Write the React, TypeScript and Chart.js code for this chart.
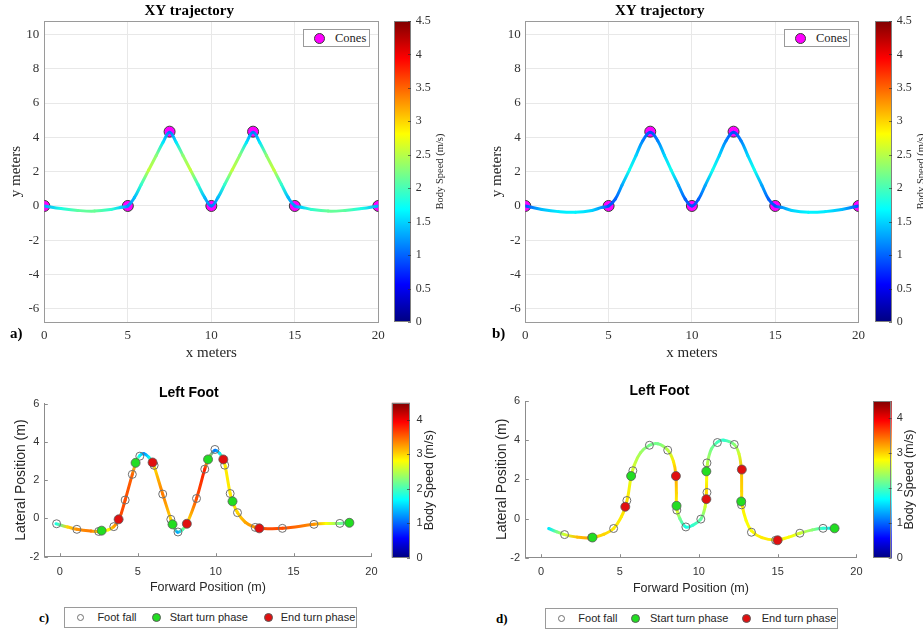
import React, { useEffect, useRef } from "react";
import { Chart, registerables } from "chart.js";

Chart.register(...registerables);

const SERIF = "'Liberation Serif', 'Times New Roman', serif";
const SANS = "'Liberation Sans', Arial, Helvetica, sans-serif";

// ---------------- DATA ----------------
const speedMax = 4.5;

const coneX = [0, 5, 7.5, 10, 12.5, 15, 20];
const coneY = [0, 0, 4.33, 0, 4.33, 0, 0];

// panel a trajectory
const trajAX = [0, 1, 2, 3, 4, 4.6, 5, 5.4, 5.8, 6.25, 6.7, 7.1, 7.5, 7.9, 8.3, 8.75, 9.2, 9.6, 10, 10.4, 10.8, 11.25, 11.7, 12.1, 12.5, 12.9, 13.3, 13.75, 14.2, 14.6, 15, 15.4, 16, 17, 18, 19, 20];
const trajAY = [0, -0.15, -0.26, -0.3, -0.2, -0.07, 0, 0.5, 1.25, 2.1, 2.94, 3.7, 4.3, 3.7, 2.94, 2.1, 1.25, 0.5, 0, 0.5, 1.25, 2.1, 2.94, 3.7, 4.3, 3.7, 2.94, 2.1, 1.25, 0.5, 0, -0.07, -0.2, -0.3, -0.26, -0.15, 0];
const trajASpeed = [1.3, 1.8, 2.1, 2.15, 1.9, 1.5, 1.2, 1.4, 1.9, 2.55, 2.3, 1.6, 1.1, 1.6, 2.3, 2.55, 1.9, 1.4, 1.1, 1.4, 1.9, 2.55, 2.3, 1.6, 1.1, 1.6, 2.3, 2.55, 1.9, 1.4, 1.2, 1.5, 1.9, 2.15, 2.1, 1.8, 1.3];

// panel b trajectory
const trajBX = [0, 1, 2, 3, 4, 4.6, 5, 5.4, 5.8, 6.25, 6.65, 7.05, 7.5, 7.95, 8.35, 8.75, 9.2, 9.6, 10, 10.4, 10.8, 11.25, 11.65, 12.05, 12.5, 12.95, 13.35, 13.75, 14.2, 14.6, 15, 15.4, 16, 17, 18, 19, 20];
const trajBY = [0, -0.2, -0.33, -0.37, -0.26, -0.08, 0, 0.4, 1.2, 2.1, 2.95, 3.8, 4.3, 3.8, 2.95, 2.1, 1.2, 0.4, 0, 0.4, 1.2, 2.1, 2.95, 3.8, 4.3, 3.8, 2.95, 2.1, 1.2, 0.4, 0, -0.08, -0.26, -0.37, -0.33, -0.2, 0];
const trajBSpeed = [0.9, 1.4, 1.6, 1.65, 1.5, 1.2, 0.9, 1.0, 1.3, 1.75, 1.5, 1.15, 0.9, 1.15, 1.5, 1.75, 1.3, 1.0, 0.9, 1.0, 1.3, 1.75, 1.5, 1.15, 0.9, 1.15, 1.5, 1.75, 1.3, 1.0, 0.9, 1.2, 1.5, 1.65, 1.6, 1.4, 0.9];

const xyXTicks = [0, 5, 10, 15, 20];
const xyYTicks = [-6, -4, -2, 0, 2, 4, 6, 8, 10];
const xyCbTicks = [0, 0.5, 1, 1.5, 2, 2.5, 3, 3.5, 4, 4.5];

// panel c (left foot, trial 1)
const pathCX = [-0.25, 0.5, 1.09, 2.0, 2.6, 3.1, 3.46, 3.8, 4.19, 4.65, 4.9, 5.13, 5.4, 5.7, 5.95, 6.1, 6.6, 7.12, 7.3, 7.55, 7.85, 8.15, 8.77, 9.3, 9.55, 9.95, 10.25, 10.49, 10.62, 10.93, 11.1, 11.4, 11.9, 12.54, 12.8, 14.28, 16.31, 17.1, 17.97, 18.58];
const pathCY = [-0.28, -0.45, -0.57, -0.66, -0.68, -0.6, -0.43, -0.05, 0.96, 2.3, 2.95, 3.28, 3.38, 3.2, 2.92, 2.6, 1.27, -0.05, -0.45, -0.72, -0.6, -0.28, 1.04, 2.57, 3.12, 3.55, 3.4, 3.08, 2.7, 1.3, 0.85, 0.3, -0.2, -0.47, -0.52, -0.52, -0.31, -0.27, -0.26, -0.23];
const pathCSpeed = [1.8, 3.0, 3.3, 3.4, 2.8, 2.8, 3.2, 3.6, 3.6, 3.5, 2.6, 1.7, 1.2, 1.6, 2.8, 3.0, 3.4, 3.0, 2.4, 1.3, 2.0, 2.9, 3.6, 3.8, 2.8, 1.1, 1.6, 2.8, 2.9, 2.9, 2.9, 3.0, 3.2, 3.3, 3.6, 3.6, 3.3, 2.8, 2.2, 2.0];
const fallCX = [-0.21, 1.09, 2.49, 3.46, 4.19, 4.65, 5.13, 6.05, 6.6, 7.12, 7.58, 8.77, 9.3, 9.95, 10.58, 10.93, 11.4, 12.54, 14.28, 16.31, 17.97];
const fallCY = [-0.28, -0.57, -0.68, -0.43, 0.96, 2.3, 3.25, 2.77, 1.27, -0.05, -0.71, 1.04, 2.57, 3.6, 2.78, 1.3, 0.3, -0.47, -0.52, -0.31, -0.26];
const startCX = [2.68, 4.86, 7.23, 9.51, 11.08, 18.58];
const startCY = [-0.64, 2.9, -0.31, 3.08, 0.89, -0.23];
const endCX = [3.77, 5.95, 8.15, 10.49, 12.8];
const endCY = [-0.05, 2.92, -0.28, 3.08, -0.52];

// panel d (left foot, trial 2)
const pathDX = [0.48, 1.0, 1.49, 2.3, 3.0, 3.5, 4.0, 4.6, 5.1, 5.34, 5.5, 5.7, 5.9, 6.3, 6.87, 7.4, 8.03, 8.4, 8.55, 8.58, 8.6, 8.8, 9.18, 9.6, 10.13, 10.4, 10.48, 10.5, 10.55, 10.8, 11.18, 11.6, 12.25, 12.55, 12.7, 12.72, 12.75, 13.0, 13.34, 14.0, 14.9, 15.7, 16.41, 17.2, 17.88, 18.61];
const pathDY = [-0.51, -0.68, -0.82, -0.95, -1.0, -0.93, -0.8, -0.51, 0.1, 0.6, 1.1, 2.1, 2.7, 3.35, 3.74, 3.82, 3.5, 2.9, 2.17, 1.3, 0.5, 0.0, -0.43, -0.35, -0.03, 0.6, 1.3, 2.0, 2.8, 3.55, 3.9, 4.0, 3.78, 3.3, 2.5, 1.4, 0.7, -0.1, -0.62, -0.98, -1.1, -0.95, -0.75, -0.58, -0.5, -0.5];
const pathDSpeed = [1.6, 2.2, 2.6, 3.1, 3.2, 3.0, 3.0, 2.9, 2.9, 3.0, 2.9, 2.7, 2.6, 2.4, 2.2, 2.2, 2.5, 2.9, 3.2, 3.0, 2.8, 2.2, 1.8, 1.9, 2.1, 2.6, 3.0, 2.8, 2.5, 2.2, 2.0, 1.9, 2.3, 2.6, 3.1, 3.0, 2.9, 2.8, 2.8, 2.9, 2.9, 2.8, 2.6, 2.3, 1.9, 1.6];
const fallDX = [1.49, 3.21, 4.6, 5.44, 5.82, 6.87, 8.03, 8.61, 9.18, 10.13, 10.52, 10.52, 11.18, 12.25, 12.71, 13.34, 14.87, 16.41, 17.88];
const fallDY = [-0.82, -0.97, -0.51, 0.92, 2.44, 3.74, 3.49, 0.43, -0.43, -0.03, 1.33, 2.84, 3.88, 3.78, 0.7, -0.7, -1.11, -0.75, -0.5];
const startDX = [3.26, 5.71, 8.59, 10.48, 12.69, 18.61];
const startDY = [-0.97, 2.17, 0.65, 2.41, 0.87, -0.5];
const endDX = [5.34, 8.55, 10.48, 12.73, 15.0];
const endDY = [0.6, 2.17, 0.99, 2.5, -1.11];

const footXTicks = [0, 5, 10, 15, 20];
const footYTicks = [-2, 0, 2, 4, 6];
const footCbTicks = [0, 1, 2, 3, 4];

// ---------------- HELPERS ----------------
function jet(v: number): string {
  const t = Math.max(0, Math.min(1, v / speedMax));
  const c = (x: number) => Math.round(255 * Math.max(0, Math.min(1, x)));
  return `rgb(${c(1.5 - Math.abs(4 * t - 3))},${c(1.5 - Math.abs(4 * t - 2))},${c(1.5 - Math.abs(4 * t - 1))})`;
}

const pts = (xs: number[], ys: number[]) => xs.map((x, i) => ({ x, y: ys[i] }));
const fixedTicks = (vals: number[]) => (s: any) => {
  s.ticks = vals.map((v) => ({ value: v }));
};
const plainLabel = (v: any) => String(v);

function segColor(canvas: HTMLCanvasElement, speed: number[]) {
  return (sc: any) => {
    const ctx = canvas.getContext("2d")!;
    const i0 = sc.p0DataIndex;
    const i1 = sc.p1DataIndex;
    const g: any = ctx.createLinearGradient(sc.p0.x, sc.p0.y, sc.p1.x + 0.01, sc.p1.y + 0.01);
    g.addColorStop(0, jet(speed[i0]));
    g.addColorStop(1, jet(speed[i1]));
    g.segId = i0;
    return g;
  };
}

const boxPlugin = {
  id: "box",
  beforeDatasetsDraw(chart: any) {
    const { ctx, chartArea: a } = chart;
    ctx.save();
    ctx.strokeStyle = "#9a9a9a";
    ctx.lineWidth = 1;
    ctx.strokeRect(Math.round(a.left) + 0.5, Math.round(a.top) + 0.5, Math.round(a.right - a.left), Math.round(a.bottom - a.top));
    ctx.restore();
  },
};

// small inward tick marks on the left and bottom axis lines (MATLAB style)
const innerTicksPlugin = {
  id: "innerTicks",
  beforeDatasetsDraw(chart: any) {
    const { ctx, chartArea: a, scales } = chart;
    ctx.save();
    ctx.strokeStyle = "#8c8c8c";
    ctx.lineWidth = 1;
    ctx.beginPath();
    for (const t of scales.x.ticks) {
      const px = Math.round(scales.x.getPixelForValue(t.value)) + 0.5;
      ctx.moveTo(px, a.bottom);
      ctx.lineTo(px, a.bottom - 3.5);
    }
    for (const t of scales.y.ticks) {
      const py = Math.round(scales.y.getPixelForValue(t.value)) + 0.5;
      ctx.moveTo(a.left, py);
      ctx.lineTo(a.left + 3.5, py);
    }
    ctx.stroke();
    ctx.restore();
  },
};

type XYLayout = { padRight: number; yWidth: number; yTitlePad: number; yTickPad: number };

function xyConfig(canvas: HTMLCanvasElement, tx: number[], ty: number[], ts: number[], L: XYLayout): any {
  const tickFont = { family: SERIF, size: 13 };
  const titleFont = { family: SERIF, size: 15 };
  return {
    type: "scatter",
    data: {
      datasets: [
        {
          label: "trajectory",
          data: pts(tx, ty),
          showLine: true,
          pointRadius: 0,
          pointHoverRadius: 0,
          borderWidth: 3,
          borderColor: "#00aaff",
          tension: 0.4,
          borderCapStyle: "round",
          borderJoinStyle: "round",
          segment: { borderColor: segColor(canvas, ts) },
        },
        {
          label: "Cones",
          data: pts(coneX, coneY),
          showLine: false,
          pointRadius: 5.5,
          pointBackgroundColor: "#ff00ff",
          pointBorderColor: "#3a3a3a",
          pointBorderWidth: 1,
        },
      ],
    },
    options: {
      responsive: false,
      animation: false,
      events: [],
      layout: { padding: { left: 0, right: L.padRight, top: 0, bottom: 0 } },
      plugins: {
        legend: { display: false },
        tooltip: { enabled: false },
        title: {
          display: true,
          text: "XY trajectory",
          color: "#000",
          font: { family: SERIF, size: 15, weight: "bold" },
          padding: { top: 2, bottom: 1 },
        },
      },
      scales: {
        x: {
          type: "linear",
          min: 0,
          max: 20,
          afterBuildTicks: fixedTicks(xyXTicks),
          afterFit: (s: any) => {
            s.height = 47.7;
          },
          grid: { color: "#e8e8e8", drawTicks: false },
          border: { display: false },
          ticks: { padding: 5, color: "#333", font: tickFont, callback: plainLabel },
          title: { display: true, text: "x meters", color: "#262626", font: titleFont, padding: { top: 0, bottom: 8.3 } },
        },
        y: {
          type: "linear",
          min: -6.78,
          max: 10.78,
          afterBuildTicks: fixedTicks(xyYTicks),
          afterFit: (s: any) => {
            s.width = L.yWidth;
          },
          grid: { color: "#e8e8e8", drawTicks: false },
          border: { display: false },
          ticks: { padding: L.yTickPad, color: "#333", font: tickFont, callback: plainLabel },
          title: { display: true, text: "y meters", color: "#262626", font: titleFont, padding: { top: L.yTitlePad, bottom: 0 } },
        },
      },
    },
    plugins: [boxPlugin],
  };
}

type FootData = {
  px: number[]; py: number[]; ps: number[];
  fx: number[]; fy: number[];
  sx: number[]; sy: number[];
  ex: number[]; ey: number[];
};
type FootLayout = {
  padRight: number; yWidth: number; xHeight: number;
  titleTop: number; titleBottom: number;
  xTickPad: number; xTitleBottom: number; yTitleTop: number; yTickPad: number;
};

function footConfig(canvas: HTMLCanvasElement, D: FootData, L: FootLayout): any {
  const tickFont = { family: SANS, size: 11 };
  return {
    type: "scatter",
    data: {
      datasets: [
        {
          label: "End turn phase",
          data: pts(D.ex, D.ey),
          pointRadius: 4.5,
          pointBackgroundColor: "#e01010",
          pointBorderColor: "#5a5a5a",
          pointBorderWidth: 0.8,
        },
        {
          label: "Start turn phase",
          data: pts(D.sx, D.sy),
          pointRadius: 4.5,
          pointBackgroundColor: "#22dd22",
          pointBorderColor: "#5a5a5a",
          pointBorderWidth: 0.8,
        },
        {
          label: "Foot fall",
          data: pts(D.fx, D.fy),
          pointRadius: 4,
          pointBackgroundColor: "rgba(255,255,255,0)",
          pointBorderColor: "#6f6f6f",
          pointBorderWidth: 1,
        },
        {
          label: "path",
          data: pts(D.px, D.py),
          showLine: true,
          pointRadius: 0,
          pointHoverRadius: 0,
          borderWidth: 3,
          borderColor: "#ff8800",
          tension: 0.4,
          borderCapStyle: "round",
          borderJoinStyle: "round",
          segment: { borderColor: segColor(canvas, D.ps) },
        },
      ],
    },
    options: {
      responsive: false,
      animation: false,
      events: [],
      layout: { padding: { left: 0, right: L.padRight, top: 0, bottom: 0 } },
      plugins: {
        legend: { display: false },
        tooltip: { enabled: false },
        title: {
          display: true,
          text: "Left Foot",
          color: "#000",
          font: { family: SANS, size: 14, weight: "bold" },
          padding: { top: L.titleTop, bottom: L.titleBottom },
        },
      },
      scales: {
        x: {
          type: "linear",
          min: -1,
          max: 20,
          afterBuildTicks: fixedTicks(footXTicks),
          afterFit: (s: any) => {
            s.height = L.xHeight;
          },
          grid: { display: false, drawTicks: false },
          border: { display: true, color: "#8c8c8c", width: 1 },
          ticks: { padding: L.xTickPad, color: "#333", font: tickFont, callback: plainLabel },
          title: {
            display: true,
            text: "Forward Position (m)",
            color: "#262626",
            font: { family: SANS, size: 12.5 },
            padding: { top: 0, bottom: L.xTitleBottom },
          },
        },
        y: {
          type: "linear",
          min: -2,
          max: 6,
          afterBuildTicks: fixedTicks(footYTicks),
          afterFit: (s: any) => {
            s.width = L.yWidth;
          },
          grid: { display: false, drawTicks: false },
          border: { display: true, color: "#8c8c8c", width: 1 },
          ticks: { padding: L.yTickPad, color: "#333", font: tickFont, callback: plainLabel },
          title: {
            display: true,
            text: "Lateral Position (m)",
            color: "#262626",
            font: { family: SANS, size: 14 },
            padding: { top: L.yTitleTop, bottom: 0 },
          },
        },
      },
    },
    plugins: [innerTicksPlugin],
  };
}

type CbLayout = {
  padLeft: number; padTop: number; padBottom: number; axisWidth: number;
  ticks: number[]; tickPad: number; tickFont: any;
  label: string; labelX: number; labelFont: string;
};

function colorbarConfig(L: CbLayout): any {
  const decor = {
    id: "cbDecor",
    afterDraw(chart: any) {
      const { ctx, chartArea: a } = chart;
      const ys = chart.scales.y;
      ctx.save();
      ctx.strokeStyle = "#808080";
      ctx.lineWidth = 1;
      ctx.strokeRect(Math.round(a.left) + 0.5, Math.round(a.top) + 0.5, Math.round(a.right - a.left) - 1, Math.round(a.bottom - a.top) - 1);
      ctx.strokeStyle = "rgba(40,40,40,0.75)";
      ctx.lineWidth = 0.8;
      for (const v of L.ticks) {
        const py = Math.round(ys.getPixelForValue(v)) + 0.5;
        ctx.beginPath();
        ctx.moveTo(a.right - 3, py);
        ctx.lineTo(a.right, py);
        ctx.stroke();
      }
      ctx.translate(L.labelX, (a.top + a.bottom) / 2);
      ctx.rotate(-Math.PI / 2);
      ctx.font = L.labelFont;
      ctx.fillStyle = "#262626";
      ctx.textAlign = "center";
      ctx.textBaseline = "middle";
      ctx.fillText(L.label, 0, 0);
      ctx.restore();
    },
  };
  return {
    type: "bar",
    data: {
      labels: [""],
      datasets: [
        {
          data: [speedMax],
          borderWidth: 0,
          barPercentage: 1,
          categoryPercentage: 1,
          backgroundColor: (c: any) => {
            const a = c.chart.chartArea;
            if (!a) return "#00f";
            const g = c.chart.ctx.createLinearGradient(0, a.bottom, 0, a.top);
            const n = 48;
            for (let i = 0; i <= n; i++) g.addColorStop(i / n, jet((i / n) * speedMax));
            return g;
          },
        },
      ],
    },
    options: {
      responsive: false,
      animation: false,
      events: [],
      layout: { padding: { left: L.padLeft, top: L.padTop, bottom: L.padBottom, right: 0 } },
      plugins: { legend: { display: false }, tooltip: { enabled: false } },
      scales: {
        x: { display: false },
        y: {
          position: "right",
          min: 0,
          max: speedMax,
          afterBuildTicks: fixedTicks(L.ticks),
          afterFit: (s: any) => {
            s.width = L.axisWidth;
          },
          grid: { display: false, drawTicks: false },
          border: { display: false },
          ticks: { padding: L.tickPad, color: "#333", font: L.tickFont, callback: plainLabel },
        },
      },
    },
    plugins: [decor],
  };
}

// ---------------- COMPONENTS ----------------
function ChartCanvas(props: { left: number; top: number; width: number; height: number; make: (c: HTMLCanvasElement) => any }) {
  const ref = useRef<HTMLCanvasElement>(null);
  useEffect(() => {
    const canvas = ref.current!;
    const chart = new Chart(canvas, props.make(canvas));
    return () => chart.destroy();
  }, []);
  const { left, top, width, height } = props;
  return (
    <canvas
      ref={ref}
      width={width}
      height={height}
      style={{ position: "absolute", left, top, width, height, display: "block" }}
    />
  );
}

type LegendItem = { label: string; mx: number; tx: number; d: number; fill: string; edge: string };

function LegendBox(props: { left: number; top: number; width: number; height: number; family: string; size: number; items: LegendItem[] }) {
  const { left, top, width, height, family, size, items } = props;
  const inner = height - 2;
  return (
    <div
      style={{
        position: "absolute",
        left,
        top,
        width,
        height,
        boxSizing: "border-box",
        border: "1px solid #9a9a9a",
        background: "#fff",
      }}
    >
      {items.map((it) => (
        <React.Fragment key={it.label}>
          <div
            style={{
              position: "absolute",
              left: it.mx - 1 - it.d / 2,
              top: inner / 2 - it.d / 2,
              width: it.d,
              height: it.d,
              borderRadius: "50%",
              background: it.fill,
              border: `1px solid ${it.edge}`,
              boxSizing: "border-box",
            }}
          />
          <span
            style={{
              position: "absolute",
              left: it.tx - 1,
              top: 0,
              height: inner,
              fontFamily: family,
              fontSize: size,
              lineHeight: `${inner}px`,
              color: "#262626",
              whiteSpace: "nowrap",
            }}
          >
            {it.label}
          </span>
        </React.Fragment>
      ))}
    </div>
  );
}

function PanelLetter(props: { text: string; left: number; cy: number; size: number }) {
  return (
    <div
      style={{
        position: "absolute",
        left: props.left,
        top: props.cy - 10,
        height: 20,
        lineHeight: "20px",
        fontFamily: SERIF,
        fontWeight: "bold",
        fontSize: props.size,
        color: "#000",
      }}
    >
      {props.text}
    </div>
  );
}

const footLegendItems = (o: number[]): LegendItem[] => [
  { label: "Foot fall", mx: o[0], tx: o[1], d: 7, fill: "transparent", edge: "#6f6f6f" },
  { label: "Start turn phase", mx: o[2], tx: o[3], d: 9, fill: "#22dd22", edge: "#5a5a5a" },
  { label: "End turn phase", mx: o[4], tx: o[5], d: 9, fill: "#e01010", edge: "#5a5a5a" },
];

export default function App() {
  const dataC: FootData = { px: pathCX, py: pathCY, ps: pathCSpeed, fx: fallCX, fy: fallCY, sx: startCX, sy: startCY, ex: endCX, ey: endCY };
  const dataD: FootData = { px: pathDX, py: pathDY, ps: pathDSpeed, fx: fallDX, fy: fallDY, sx: startDX, sy: startDY, ex: endDX, ey: endDY };
  const xyCbTickFont = { family: SERIF, size: 12 };
  const footCbTickFont = { family: SANS, size: 11 };
  return (
    <div style={{ position: "absolute", left: 0, top: 0, width: 923, height: 632, background: "#fff", overflow: "hidden" }}>
      {/* panel a */}
      <ChartCanvas
        left={0}
        top={0}
        width={390}
        height={370}
        make={(c) => xyConfig(c, trajAX, trajAY, trajASpeed, { padRight: 11.67, yWidth: 44.33, yTitlePad: 7, yTickPad: 5 })}
      />
      <ChartCanvas
        left={390}
        top={0}
        width={70}
        height={370}
        make={() =>
          colorbarConfig({
            padLeft: 4, padTop: 21, padBottom: 48, axisWidth: 49,
            ticks: xyCbTicks, tickPad: 4.7, tickFont: xyCbTickFont,
            label: "Body Speed (m/s)", labelX: 50, labelFont: `10.5px ${SERIF}`,
          })
        }
      />
      <LegendBox
        left={303}
        top={29}
        width={67}
        height={18}
        family={SERIF}
        size={12.5}
        items={[{ label: "Cones", mx: 16, tx: 32, d: 11, fill: "#ff00ff", edge: "#3a3a3a" }]}
      />
      <PanelLetter text="a)" left={10} cy={333} size={15} />

      {/* panel b */}
      <ChartCanvas
        left={460}
        top={0}
        width={410}
        height={370}
        make={(c) => xyConfig(c, trajBX, trajBY, trajBSpeed, { padRight: 10.7, yWidth: 65.3, yTitlePad: 27.7, yTickPad: 4.5 })}
      />
      <ChartCanvas
        left={870}
        top={0}
        width={53}
        height={370}
        make={() =>
          colorbarConfig({
            padLeft: 5, padTop: 21, padBottom: 48, axisWidth: 31,
            ticks: xyCbTicks, tickPad: 4.7, tickFont: xyCbTickFont,
            label: "Body Speed (m/s)", labelX: 51, labelFont: `10.5px ${SERIF}`,
          })
        }
      />
      <LegendBox
        left={784}
        top={29}
        width={66}
        height={18}
        family={SERIF}
        size={12.5}
        items={[{ label: "Cones", mx: 16, tx: 32, d: 11, fill: "#ff00ff", edge: "#3a3a3a" }]}
      />
      <PanelLetter text="b)" left={492} cy={333} size={15} />

      {/* panel c */}
      <ChartCanvas
        left={0}
        top={375}
        width={386}
        height={230}
        make={(c) =>
          footConfig(c, dataC, {
            padRight: 8.3, yWidth: 44.3, xHeight: 48.3,
            titleTop: 9.6, titleBottom: 2.1,
            xTickPad: 8.4, xTitleBottom: 9.5, yTitleTop: 12.5, yTickPad: 5,
          })
        }
      />
      <ChartCanvas
        left={386}
        top={375}
        width={74}
        height={230}
        make={() =>
          colorbarConfig({
            padLeft: 5.7, padTop: 27.7, padBottom: 47.3, axisWidth: 50,
            ticks: footCbTicks, tickPad: 6.5, tickFont: footCbTickFont,
            label: "Body Speed (m/s)", labelX: 44, labelFont: `12.5px ${SANS}`,
          })
        }
      />
      <LegendBox left={64} top={607} width={293} height={21} family={SANS} size={11} items={footLegendItems([16.7, 33.4, 92.4, 105.7, 204, 216.7])} />
      <PanelLetter text="c)" left={39} cy={618} size={13} />

      {/* panel d */}
      <ChartCanvas
        left={460}
        top={375}
        width={410}
        height={230}
        make={(c) =>
          footConfig(c, dataD, {
            padRight: 11, yWidth: 65.3, xHeight: 47.3,
            titleTop: 7.3, titleBottom: 1.9,
            xTickPad: 7.4, xTitleBottom: 8.5, yTitleTop: 33.5, yTickPad: 5.3,
          })
        }
      />
      <ChartCanvas
        left={870}
        top={375}
        width={53}
        height={230}
        make={() =>
          colorbarConfig({
            padLeft: 3.3, padTop: 26, padBottom: 47, axisWidth: 31.3,
            ticks: footCbTicks, tickPad: 5, tickFont: footCbTickFont,
            label: "Body Speed (m/s)", labelX: 40, labelFont: `12.5px ${SANS}`,
          })
        }
      />
      <LegendBox left={545} top={608} width={293} height={21} family={SANS} size={11} items={footLegendItems([16.7, 33.3, 90, 105, 201.7, 216.7])} />
      <PanelLetter text="d)" left={496} cy={619} size={13} />
    </div>
  );
}
